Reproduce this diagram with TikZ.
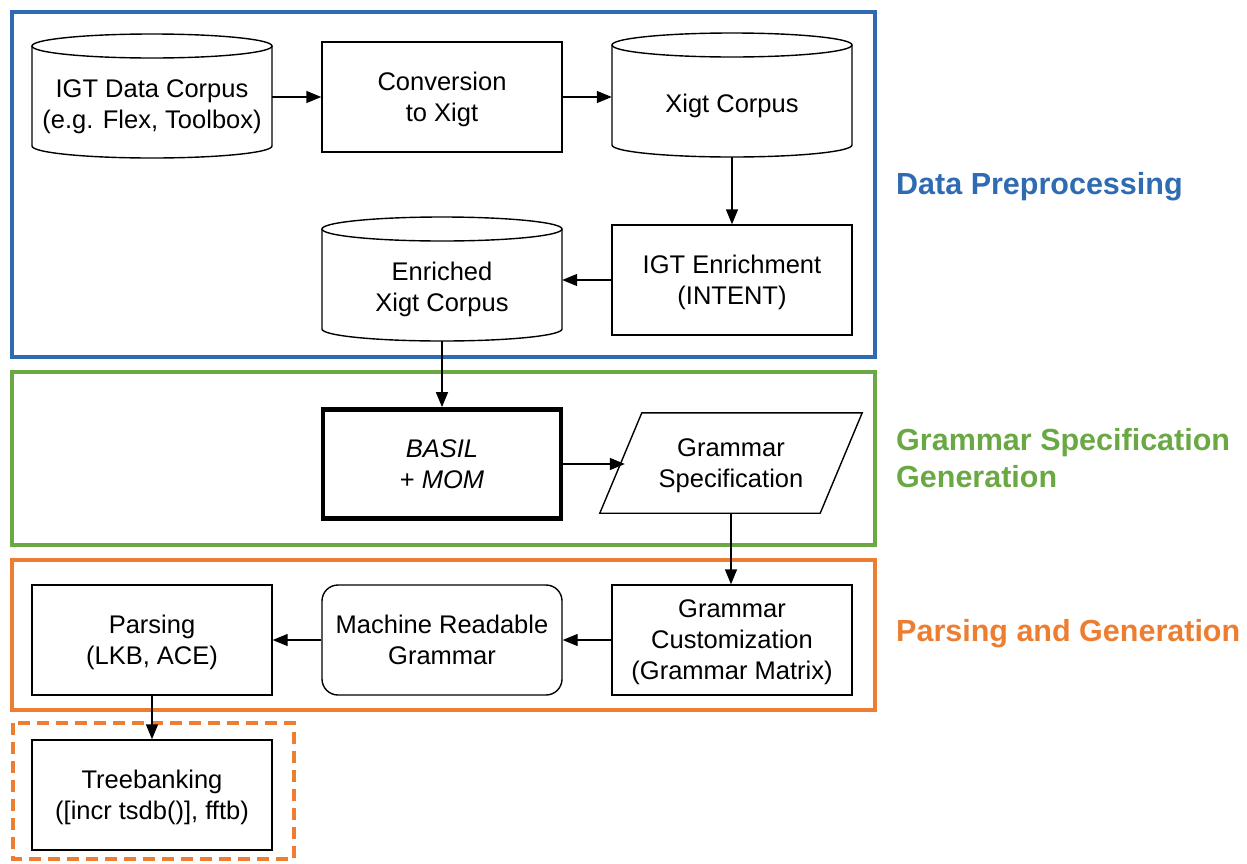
\documentclass[tikz,border=0pt]{standalone}
\usepackage{fontspec}
\setmainfont{Liberation Sans}
\usetikzlibrary{arrows.meta}
\definecolor{frameblue}{RGB}{46,107,178}
\definecolor{framegreen}{RGB}{106,168,68}
\definecolor{frameorange}{RGB}{237,125,49}

% cylinder outline drawn round the centre of a text node:
% top rim 58pt above the centre, bottom rim 42pt below it
\newcommand\dbdraw[1]{%
  \draw[line width=1.4pt] ([yshift=58pt]#1.center) ellipse [x radius=120pt, y radius=12pt];
  \draw[line width=1.4pt] ([xshift=-120pt, yshift=58pt]#1.center)
    -- ([xshift=-120pt, yshift=-42pt]#1.center)
    arc [start angle=180, end angle=360, x radius=120pt, y radius=12pt]
    -- ([xshift=120pt, yshift=58pt]#1.center);
}

\begin{document}
\begin{tikzpicture}[x=1pt, y=-1pt,
  txt/.style={align=center, font=\fontsize{25.5}{31}\selectfont, inner sep=0pt, text depth=0pt},
  box/.style={txt, draw, line width=1.4pt, minimum width=240pt, minimum height=110pt},
  roundbox/.style={box, rounded corners=16pt},
  thickbox/.style={box, line width=4.8pt, minimum width=238pt, minimum height=109pt},
  dbnode/.style={txt, minimum width=240pt},
  slantnode/.style={txt, minimum width=220pt, minimum height=100pt},
  conn/.style={line width=1.4pt, -{Triangle[length=15pt, width=12pt]}},
  frame/.style={line width=4pt},
  stagelabel/.style={anchor=west, align=left, inner sep=0pt,
    font=\fontsize{30.5}{37}\selectfont\bfseries},
]
\useasboundingbox (0,0) rectangle (1247,863);

% stage frames
\draw[frame, frameblue] (12,12) rectangle (875,357);
\draw[frame, framegreen] (12,372) rectangle (875,545);
\draw[frame, frameorange] (12,560) rectangle (875,710);
\draw[frame, frameorange, dash pattern=on 12pt off 7pt] (13,723) rectangle (294,859);

% stage labels
\node[stagelabel, text=frameblue] (lblpre) at (896,187) {Data Preprocessing};
\node[stagelabel, text=framegreen] (lblgsg) at (896,458) {Grammar Specification\\Generation};
\node[stagelabel, text=frameorange] (lblpg) at (896,634) {Parsing and Generation};

% data preprocessing
\node[dbnode] (igt) at (152,104) {IGT Data Corpus\\(e.g. Flex, Toolbox)};
\dbdraw{igt}
\node[box] (conv) at (442,97) {Conversion\\to Xigt};
\node[dbnode] (xigt) at (732,103) {Xigt Corpus};
\dbdraw{xigt}
\node[box] (enrich) at (732,280) {IGT Enrichment\\(INTENT)};
\node[dbnode] (exigt) at (442,287) {Enriched\\Xigt Corpus};
\dbdraw{exigt}

% grammar specification generation
\node[thickbox] (basil) at (442,464) {\textit{BASIL}\\+ \textit{MOM}};
\node[slantnode] (gspec) at (731,463) {Grammar\\Specification};
\draw[line width=1.4pt] ([xshift=-21pt]gspec.south west) -- ([xshift=21pt]gspec.north west)
  -- ([xshift=21pt]gspec.north east) -- ([xshift=-21pt]gspec.south east) -- cycle;

% parsing and generation
\node[box] (gcust) at (732,640) {Grammar\\Customization\\(Grammar Matrix)};
\node[roundbox] (mrg) at (442,640) {Machine Readable\\Grammar};
\node[box] (parse) at (152,640) {Parsing\\(LKB, ACE)};
\node[box] (tree) at (152,795) {Treebanking\\([incr tsdb()], fftb)};

% connectors
\draw[conn] (igt.east |- conv.east) -- (conv.west);
\draw[conn] (conv.east) -- (conv.east -| xigt.west);
\draw[conn] ([yshift=-54pt]xigt.center) -- (enrich.north);
\draw[conn] (enrich.west) -- (enrich.west -| exigt.east);
\draw[conn] ([yshift=-54pt]exigt.center) -- (basil.north);
\draw[conn] (basil.east) -- ([xshift=4pt]basil.east -| gspec.west);
\draw[conn] (gspec.south) -- (gspec.south |- gcust.north);
\draw[conn] (gcust.west) -- (mrg.east);
\draw[conn] (mrg.west) -- (parse.east);
\draw[conn] (parse.south) -- (tree.north);
\end{tikzpicture}
\end{document}
